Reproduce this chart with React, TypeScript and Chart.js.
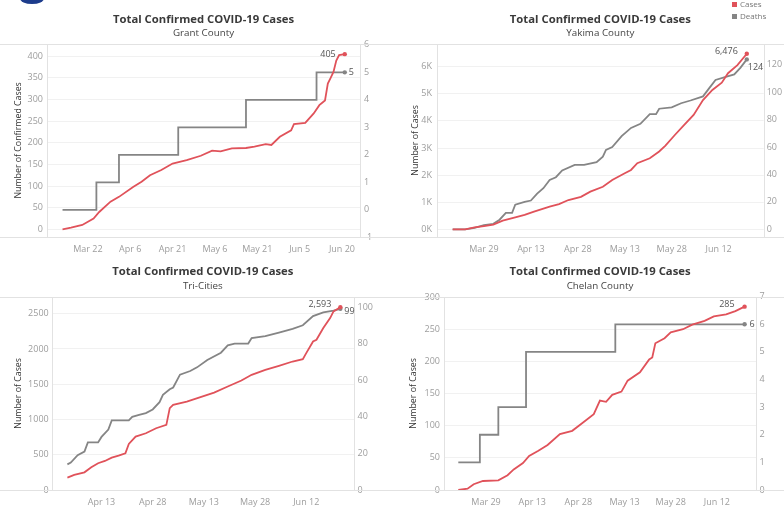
import React, { useEffect, useRef } from 'react';
import { Chart, registerables } from 'chart.js';
Chart.register(...registerables);

const FONT = '"Open Sans", "DejaVu Sans", sans-serif';
const RED = '#e0525a';
const GRAY = '#858585';
const TICK = '#9d9d9d';

const MONTH_START: Record<string, number> = { Mar: 0, Apr: 31, May: 61, Jun: 92 };
const dayOf = (label: string) => {
  const [m, d] = label.split(' ');
  return MONTH_START[m] + Number(d) - 1;
};

// ---------- Grant County ----------
const grantXTicks = ['Mar 22', 'Apr 6', 'Apr 21', 'May 6', 'May 21', 'Jun 5', 'Jun 20'];
const grantCaseTicks = [0, 50, 100, 150, 200, 250, 300, 350, 400];
const grantDeathTicks = [-1, 0, 1, 2, 3, 4, 5, 6];
const grantCaseDays = [12, 15, 19, 23, 25, 29, 32, 37, 40, 43, 47, 51, 56, 61, 65, 68, 72, 77, 80, 84, 86, 89, 93, 94, 98, 101, 103, 105, 106, 107, 108, 109, 110, 112];
const grantCases = [0, 4, 10, 25, 40, 64, 75, 98, 110, 125, 137, 152, 160, 170, 182, 180, 187, 188, 191, 197, 195, 214, 229, 243, 246, 268, 287, 298, 337, 350, 364, 390, 403, 405];
const grantDeathDays = [12, 24, 32, 53, 77, 102, 112];
const grantDeaths = [0, 1, 2, 3, 4, 5, 5];

// ---------- Yakima County ----------
const yakimaXTicks = ['Mar 29', 'Apr 13', 'Apr 28', 'May 13', 'May 28', 'Jun 12'];
const yakimaCaseTicks = [0, 1000, 2000, 3000, 4000, 5000, 6000];
const yakimaDeathTicks = [0, 20, 40, 60, 80, 100, 120];
const yakimaCaseDays = [18, 22, 25, 28, 31, 34, 38, 41, 44, 49, 52, 55, 59, 62, 66, 69, 73, 75, 77, 81, 84, 86, 89, 92, 95, 98, 101, 104, 106, 109, 112];
const yakimaCases = [0, 0, 70, 120, 170, 320, 440, 530, 650, 840, 930, 1080, 1200, 1390, 1570, 1820, 2070, 2190, 2440, 2620, 2870, 3090, 3480, 3850, 4220, 4770, 5140, 5410, 5760, 6060, 6476];
const yakimaDeathDays = [18, 22, 25, 28, 31, 33, 35, 37, 38, 41, 43, 45, 47, 49, 51, 53, 57, 60, 64, 66, 67, 69, 72, 75, 78, 81, 83, 84, 88, 91, 94, 98, 100, 102, 105, 108, 110, 112];
const yakimaDeaths = [0, 0, 1, 3, 4, 7, 12, 12, 18, 20, 21, 26, 30, 36, 38, 43, 47, 47, 49, 53, 58, 60, 68, 74, 77, 84, 84, 88, 89, 92, 94, 97, 103, 109, 111, 113, 118, 124];

// ---------- Tri-Cities ----------
const triXTicks = ['Apr 13', 'Apr 28', 'May 13', 'May 28', 'Jun 12'];
const triCaseTicks = [0, 500, 1000, 1500, 2000, 2500];
const triDeathTicks = [0, 20, 40, 60, 80, 100];
const triCaseDays = [33, 35, 38, 40, 42, 44, 46, 48, 50, 51, 53, 56, 59, 62, 63, 64, 68, 72, 76, 80, 84, 87, 91, 95, 99, 102, 103, 105, 106, 108, 110, 111, 113];
const triCases = [175, 213, 251, 322, 379, 412, 459, 487, 521, 653, 757, 805, 876, 923, 1160, 1207, 1254, 1316, 1382, 1467, 1552, 1633, 1704, 1761, 1822, 1856, 1941, 2106, 2130, 2296, 2438, 2532, 2593];
const triDeathDays = [33, 34, 36, 38, 39, 42, 43, 45, 46, 51, 52, 54, 56, 58, 60, 61, 63, 64, 66, 69, 71, 74, 78, 80, 82, 86, 87, 91, 95, 99, 102, 105, 108, 111, 113];
const triDeaths = [14, 15, 19, 21, 26, 26, 29, 33, 38, 38, 40, 41, 42, 44, 48, 52, 55, 56, 63, 65, 67, 71, 75, 79, 80, 80, 83, 84, 86, 88, 90, 95, 97, 98, 99];

// ---------- Chelan County ----------
const chelanXTicks = ['Mar 29', 'Apr 13', 'Apr 28', 'May 13', 'May 28', 'Jun 12'];
const chelanCaseTicks = [0, 50, 100, 150, 200, 250, 300];
const chelanDeathTicks = [0, 1, 2, 3, 4, 5, 6, 7];
const chelanCaseDays = [19, 22, 24, 27, 32, 35, 37, 40, 42, 45, 48, 52, 56, 59, 63, 65, 67, 69, 72, 74, 78, 81, 82, 83, 86, 88, 92, 95, 99, 102, 106, 109, 112];
const chelanCases = [0, 2, 9, 14, 15, 23, 32, 42, 53, 61, 70, 87, 92, 103, 118, 139, 137, 148, 153, 170, 183, 203, 206, 228, 236, 245, 250, 257, 263, 270, 273, 278, 285];
const chelanDeathDays = [19, 26, 32, 41, 70, 112];
const chelanDeaths = [1, 2, 3, 5, 6, 6];

const TITLE = 'Total Confirmed COVID-19 Cases';

type EndLabel = { align: 'left' | 'right'; dx: number; dy: number };
type Spec = {
  subtitle: string;
  yTitle: string;
  xTicks: string[];
  caseTicks: number[];
  deathTicks: number[];
  caseFmt: (v: number) => string;
  caseDays: number[];
  cases: number[];
  deathDays: number[];
  deaths: number[];
  stepped: boolean;
  xMin: number; xMax: number;
  yMin: number; yMax: number;
  rMin: number; rMax: number;
  leftW: number; rightW: number; bottomH: number;
  titlePad: [number, number]; subPad: [number, number];
  yTitlePad: number; leftPad: number; rightPad: number;
  caseLabel: EndLabel; deathLabel: EndLabel;
};

const framePlugin = {
  id: 'frame',
  beforeDatasetsDraw(chart: any) {
    const { ctx, chartArea, width } = chart;
    ctx.save();
    ctx.strokeStyle = '#e2e2e2';
    ctx.lineWidth = 1;
    ctx.beginPath();
    const t = Math.round(chartArea.top) + 0.5;
    const b = Math.round(chartArea.bottom) + 0.5;
    ctx.moveTo(0, t); ctx.lineTo(width, t);
    ctx.moveTo(0, b); ctx.lineTo(width, b);
    const l = Math.round(chartArea.left) + 0.5;
    const r = Math.round(chartArea.right) + 0.5;
    ctx.moveTo(l, t); ctx.lineTo(l, b);
    ctx.moveTo(r, t); ctx.lineTo(r, b);
    ctx.stroke();
    ctx.restore();
  },
};

const endLabelPlugin = {
  id: 'endLabels',
  afterDatasetsDraw(chart: any, _args: any, opts: any) {
    const { ctx } = chart;
    const labels: EndLabel[] = opts.labels || [];
    ctx.save();
    ctx.font = `9px ${FONT}`;
    ctx.fillStyle = '#555';
    ctx.textBaseline = 'middle';
    chart.data.datasets.forEach((ds: any, i: number) => {
      const cfg = labels[i];
      if (!cfg) return;
      const meta = chart.getDatasetMeta(i);
      const pt = meta.data[meta.data.length - 1];
      const v = ds.data[ds.data.length - 1].y;
      ctx.textAlign = cfg.align;
      ctx.fillText(Number(v).toLocaleString('en-US'), pt.x + cfg.dx, pt.y + cfg.dy);
    });
    ctx.restore();
  },
};

function makeConfig(s: Spec): any {
  const lastRadius = (c: any) => (c.dataIndex === c.dataset.data.length - 1 ? 2.2 : 0);
  return {
    type: 'line',
    data: {
      datasets: [
        {
          label: 'Cases',
          data: s.caseDays.map((d, i) => ({ x: d, y: s.cases[i] })),
          borderColor: RED,
          backgroundColor: RED,
          borderWidth: 1.8,
          pointRadius: lastRadius,
          pointBackgroundColor: RED,
          pointBorderWidth: 0,
          yAxisID: 'y',
          order: 0,
          tension: 0,
        },
        {
          label: 'Deaths',
          data: s.deathDays.map((d, i) => ({ x: d, y: s.deaths[i] })),
          borderColor: GRAY,
          backgroundColor: GRAY,
          borderWidth: 1.8,
          pointRadius: lastRadius,
          pointBackgroundColor: GRAY,
          pointBorderWidth: 0,
          stepped: s.stepped,
          yAxisID: 'y1',
          order: 1,
          tension: 0,
        },
      ],
    },
    options: {
      responsive: false,
      animation: false,
      events: [],
      layout: { padding: 0 },
      plugins: {
        legend: { display: false },
        tooltip: { enabled: false },
        title: {
          display: true,
          text: TITLE,
          fullSize: false,
          color: '#3a3a3a',
          font: { family: FONT, size: 11.3, weight: 'bold', lineHeight: '12px' },
          padding: { top: s.titlePad[0], bottom: s.titlePad[1] },
        },
        subtitle: {
          display: true,
          text: s.subtitle,
          fullSize: false,
          color: '#444',
          font: { family: FONT, size: 9.8, lineHeight: '11px' },
          padding: { top: s.subPad[0], bottom: s.subPad[1] },
        },
        endLabels: { labels: [s.caseLabel, s.deathLabel] },
      },
      scales: {
        x: {
          type: 'linear',
          min: s.xMin,
          max: s.xMax,
          grid: { display: false, drawTicks: false },
          border: { display: false },
          afterBuildTicks: (sc: any) => {
            sc.ticks = s.xTicks.map((l) => ({ value: dayOf(l) }));
          },
          ticks: {
            autoSkip: false,
            maxRotation: 0,
            padding: 7,
            color: TICK,
            font: { family: FONT, size: 9 },
            callback: (_v: any, i: number) => s.xTicks[i],
          },
          afterFit: (sc: any) => { sc.height = s.bottomH; },
        },
        y: {
          type: 'linear',
          position: 'left',
          min: s.yMin,
          max: s.yMax,
          grid: { color: '#f1f1f1', drawTicks: false, lineWidth: 1 },
          border: { display: false },
          afterBuildTicks: (sc: any) => {
            sc.ticks = s.caseTicks.map((v) => ({ value: v }));
          },
          ticks: {
            padding: s.leftPad,
            color: TICK,
            font: { family: FONT, size: 9 },
            callback: (v: any) => s.caseFmt(Number(v)),
          },
          title: {
            display: true,
            text: s.yTitle,
            color: '#333',
            font: { family: FONT, size: 8.8 },
            padding: { top: s.yTitlePad, bottom: 0 },
          },
          afterFit: (sc: any) => { sc.width = s.leftW; },
        },
        y1: {
          type: 'linear',
          position: 'right',
          min: s.rMin,
          max: s.rMax,
          grid: { display: false, drawTicks: false },
          border: { display: false },
          afterBuildTicks: (sc: any) => {
            sc.ticks = s.deathTicks.map((v) => ({ value: v }));
          },
          ticks: {
            padding: s.rightPad,
            color: TICK,
            font: { family: FONT, size: 9 },
            callback: (v: any) => String(v),
          },
          afterFit: (sc: any) => { sc.width = s.rightW; },
        },
      },
    },
    plugins: [framePlugin, endLabelPlugin],
  };
}

const plain = (v: number) => String(v);
const kFmt = (v: number) => `${v / 1000}K`;

const grantSpec: Spec = {
  subtitle: 'Grant County', yTitle: 'Number of Confirmed Cases',
  xTicks: grantXTicks, caseTicks: grantCaseTicks, deathTicks: grantDeathTicks, caseFmt: plain,
  caseDays: grantCaseDays, cases: grantCases, deathDays: grantDeathDays, deaths: grantDeaths, stepped: true,
  xMin: 6.5, xMax: 117.4, yMin: -18.5, yMax: 429.6, rMin: -1, rMax: 6.05,
  leftW: 47, rightW: 32, bottomH: 22.7,
  titlePad: [13.5, 2], subPad: [0.3, 4.7], yTitlePad: 13, leftPad: 4, rightPad: 4,
  caseLabel: { align: 'right', dx: -9, dy: 0 }, deathLabel: { align: 'left', dx: 4, dy: 0 },
};

const yakimaSpec: Spec = {
  subtitle: 'Yakima County', yTitle: 'Number of Cases',
  xTicks: yakimaXTicks, caseTicks: yakimaCaseTicks, deathTicks: yakimaDeathTicks, caseFmt: kFmt,
  caseDays: yakimaCaseDays, cases: yakimaCases, deathDays: yakimaDeathDays, deaths: yakimaDeaths, stepped: false,
  xMin: 13, xMax: 117.4, yMin: -295, yMax: 6856, rMin: -5.84, rMax: 135.6,
  leftW: 45, rightW: 20.3, bottomH: 22.7,
  titlePad: [13.5, 2], subPad: [0.3, 4.7], yTitlePad: 18, leftPad: 5, rightPad: 3,
  caseLabel: { align: 'right', dx: -9, dy: -2 }, deathLabel: { align: 'left', dx: 1, dy: 8 },
};

const triSpec: Spec = {
  subtitle: 'Tri-Cities', yTitle: 'Number of Cases',
  xTicks: triXTicks, caseTicks: triCaseTicks, deathTicks: triDeathTicks, caseFmt: plain,
  caseDays: triCaseDays, cases: triCases, deathDays: triDeathDays, deaths: triDeaths, stepped: false,
  xMin: 28.4, xMax: 117, yMin: 0, yMax: 2741, rMin: 0, rMax: 105.6,
  leftW: 51.7, rightW: 38, bottomH: 18,
  titlePad: [5.7, 2], subPad: [1.5, 4.5], yTitlePad: 13, leftPad: 3, rightPad: 3.5,
  caseLabel: { align: 'right', dx: -9, dy: -3 }, deathLabel: { align: 'left', dx: 4, dy: 3 },
};

const chelanSpec: Spec = {
  subtitle: 'Chelan County', yTitle: 'Number of Cases',
  xTicks: chelanXTicks, caseTicks: chelanCaseTicks, deathTicks: chelanDeathTicks, caseFmt: plain,
  caseDays: chelanCaseDays, cases: chelanCases, deathDays: chelanDeathDays, deaths: chelanDeaths, stepped: true,
  xMin: 14.35, xMax: 115.7, yMin: 0, yMax: 300.5, rMin: 0, rMax: 7,
  leftW: 52, rightW: 28, bottomH: 18,
  titlePad: [5.7, 2], subPad: [1.5, 4.5], yTitlePad: 16, leftPad: 4, rightPad: 3.5,
  caseLabel: { align: 'right', dx: -10, dy: -2 }, deathLabel: { align: 'left', dx: 5, dy: 0 },
};

function Panel({ spec, left, top, width, height }: { spec: Spec; left: number; top: number; width: number; height: number }) {
  const ref = useRef<HTMLCanvasElement | null>(null);
  useEffect(() => {
    if (!ref.current) return;
    const chart = new Chart(ref.current, makeConfig(spec));
    return () => chart.destroy();
  }, [spec]);
  return (
    <div style={{ position: 'absolute', left, top, width, height }}>
      <canvas ref={ref} width={width} height={height} style={{ display: 'block', width, height }} />
    </div>
  );
}

export default function App() {
  return (
    <div style={{ position: 'absolute', left: 0, top: 0, width: 784, height: 508, background: '#fff', overflow: 'hidden', fontFamily: FONT }}>
      <div style={{ position: 'absolute', left: 20, top: -7, width: 24, height: 11, borderRadius: '50%', background: '#1d3c8c' }} />
      <Panel spec={grantSpec} left={0} top={0} width={392} height={260} />
      <Panel spec={yakimaSpec} left={392} top={0} width={392} height={260} />
      <Panel spec={triSpec} left={0} top={260} width={392} height={248} />
      <Panel spec={chelanSpec} left={392} top={260} width={392} height={248} />
      <div style={{ position: 'absolute', left: 732, top: 0, fontSize: 8, color: '#777', lineHeight: '12px' }}>
        <div style={{ display: 'flex', alignItems: 'center', marginTop: -2 }}>
          <span style={{ display: 'inline-block', width: 5, height: 5, background: RED, marginRight: 3 }} />
          <span>Cases</span>
        </div>
        <div style={{ display: 'flex', alignItems: 'center' }}>
          <span style={{ display: 'inline-block', width: 5, height: 5, background: GRAY, marginRight: 3 }} />
          <span>Deaths</span>
        </div>
      </div>
    </div>
  );
}
